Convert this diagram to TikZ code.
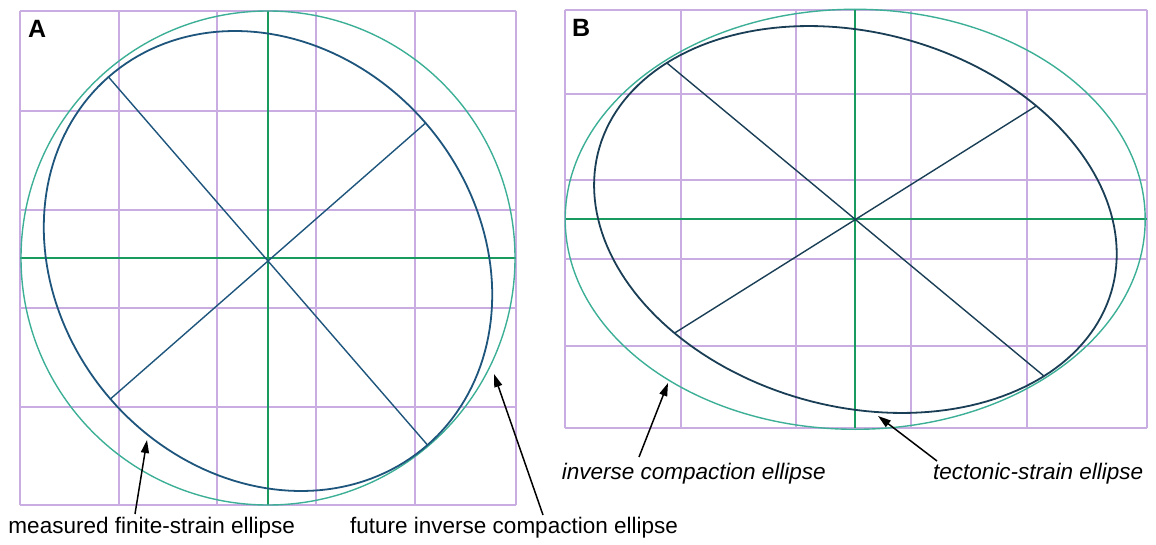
\documentclass[tikz,border=0pt]{standalone}
\usepackage{fontspec}
\setmainfont{Liberation Sans}
\usetikzlibrary{arrows.meta}
\definecolor{gridc}{RGB}{200,172,226}
\definecolor{axisc}{RGB}{25,155,95}
\definecolor{circc}{RGB}{60,175,150}
\definecolor{ellc}{RGB}{30,85,125}
\definecolor{ellcB}{RGB}{25,62,85}
\begin{document}
\begin{tikzpicture}[x=1pt,y=-1pt,
  gridline/.style={draw=gridc, line width=2pt},
  axisline/.style={draw=axisc, line width=1.5pt},
  compell/.style={draw=circc, line width=1.4pt},
  strainell/.style={draw=ellc, line width=1.8pt},
  diam/.style={draw=ellc, line width=1.4pt},
  lab/.style={inner sep=0pt, anchor=base west, font=\fontsize{22.5}{27}\selectfont},
  ilab/.style={inner sep=0pt, anchor=base west, font=\fontsize{22.5}{27}\selectfont\itshape},
  panel/.style={inner sep=0pt, anchor=base west, font=\fontsize{25}{30}\selectfont\bfseries},
  pointer/.style={-{Triangle[length=13pt,width=8pt]}, line width=1.5pt, black}]
\useasboundingbox (0,0) rectangle (1156,545);

% ---------- Panel A ----------
\foreach \x in {20.3,119,217,316,415,515.5} \draw[gridline] (\x,11) -- (\x,505);
\foreach \y in {11,111,210,308.3,407.3,505} \draw[gridline] (20.3,\y) -- (515.5,\y);
\draw[axisline] (268,11) -- (268,505);
\draw[axisline] (20.3,258) -- (515.5,258);
\draw[compell] (268,258) circle[radius=247pt];
\draw[strainell] plot[domain=0:360,samples=181,variable=\t]
  ({268+159.5*cos(\t)+157.6*sin(\t)},{261+184*cos(\t)-138*sin(\t)}) -- cycle;
\coordinate (A1) at (108.5,77);
\coordinate (A2) at (427.5,445);
\coordinate (A3) at (425.6,123);
\coordinate (A4) at (110.4,399);
\draw[diam] (A1) -- (A2);
\draw[diam] (A3) -- (A4);
\node[panel] (pA) at (28,38) {A};

% ---------- Panel B ----------
\foreach \x in {564.7,680.6,796.2,911.4,1027.3,1147} \draw[gridline] (\x,10) -- (\x,427.7);
\foreach \y in {10,94.3,180,259.3,346,427.7} \draw[gridline] (564.7,\y) -- (1147,\y);
\draw[draw=axisc, line width=1.5pt] (855,10) -- (855,427.7);
\draw[draw=axisc, line width=1.5pt] (564.7,219) -- (1147,219);
\draw[compell] (855.2,219.3) ellipse[x radius=290pt, y radius=210pt];
\draw[strainell, draw=ellcB] plot[domain=0:360,samples=181,variable=\t]
  ({855.4+188.6*cos(\t)+180.9*sin(\t)},{219.5+156.6*cos(\t)-113.6*sin(\t)}) -- cycle;
\coordinate (B1) at (666.8,62.9);
\coordinate (B2) at (1044,376.1);
\coordinate (B3) at (1036.3,105.9);
\coordinate (B4) at (674.5,333.1);
\draw[diam, draw=ellcB] (B1) -- (B2);
\draw[diam, draw=ellcB] (B3) -- (B4);
\node[panel] (pB) at (572,37) {B};

% ---------- Labels and pointers ----------
\node[lab] (mlab) at (8.3,533) {measured finite-strain ellipse};
\node[lab] (flab) at (350,533) {future inverse compaction ellipse};
\node[ilab] (ilab) at (561.6,479) {inverse compaction ellipse};
\node[ilab] (tlab) at (933,479) {tectonic-strain ellipse};

\coordinate (mtail) at (135,514);
\coordinate (mtip) at (147,440);
\coordinate (ftail) at (543,515);
\coordinate (ftip) at (494,374);
\coordinate (itail) at (639,457);
\coordinate (itip) at (668,383);
\coordinate (ttail) at (937,461);
\coordinate (ttip) at (878,416);
\draw[pointer] (mtail) -- (mtip);
\draw[pointer] (ftail) -- (ftip);
\draw[pointer] (itail) -- (itip);
\draw[pointer] (ttail) -- (ttip);
\end{tikzpicture}
\end{document}
